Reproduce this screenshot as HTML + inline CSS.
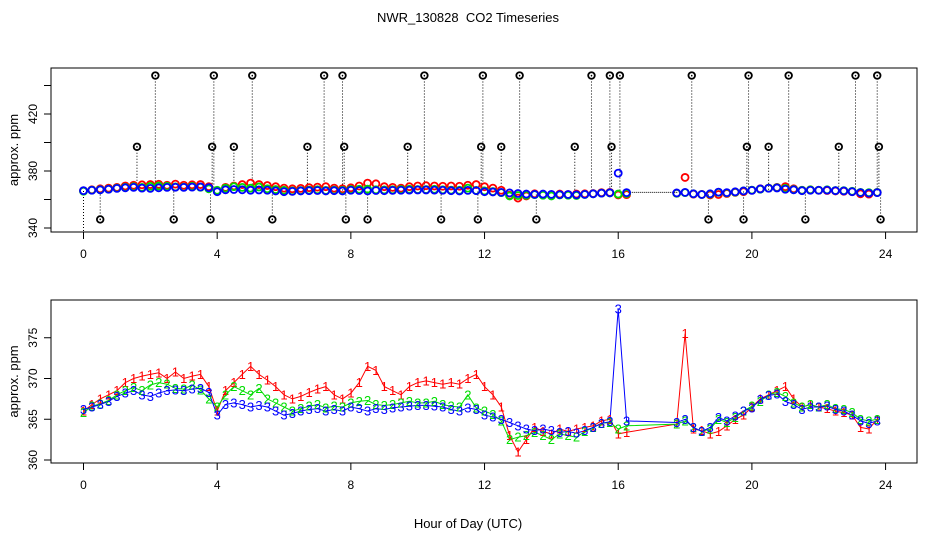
<!DOCTYPE html>
<html><head><meta charset="utf-8"><style>
body{margin:0;background:#fff;}
svg{display:block;font-family:"Liberation Sans",sans-serif;}
</style></head><body>
<svg id="chart" width="936" height="540" viewBox="0 0 936 540" xmlns="http://www.w3.org/2000/svg">
<rect width="936" height="540" fill="#fff"/>
<text x="468" y="22" font-size="13" text-anchor="middle" xml:space="preserve">NWR_130828  CO2 Timeseries</text>
<text x="468" y="528" font-size="13" text-anchor="middle">Hour of Day (UTC)</text>
<g id="topPanel"></g>
<g id="botPanel"></g>
</svg>
<script>
const hours = [];
for (let i = 0; i < 96; i++) hours.push(i * 0.25);
const series3 = [366.2,366.5,366.8,367.2,367.8,368.2,368.5,368.0,367.8,368.2,368.5,368.6,368.5,368.7,368.8,368.3,
365.5,366.8,367.0,366.8,366.5,366.7,366.5,366.0,365.5,365.7,366.0,366.2,366.3,366.0,366.2,366.0,
366.5,366.3,366.0,366.3,366.2,366.4,366.5,366.6,366.7,366.7,366.6,366.5,366.2,366.0,366.4,366.2,
365.5,365.3,365.0,364.6,364.2,363.8,363.6,363.8,363.6,363.4,363.5,363.3,363.6,364.0,364.5,364.7,
378.5,364.8,null,null,null,null,null,364.6,365.0,364.0,363.5,364.0,365.2,364.8,365.4,366.0,
366.4,367.4,367.9,368.1,367.2,366.8,366.2,366.5,366.5,366.6,366.2,366.0,365.5,364.8,364.5,364.8];
const series2 = [365.8,366.6,366.9,367.3,368.0,368.5,368.9,368.5,369.2,369.5,369.3,368.8,368.7,369.2,368.6,367.5,
366.5,368.0,369.0,368.5,368.0,368.8,367.5,367.0,366.5,366.0,366.3,366.6,366.8,366.4,366.6,366.5,
367.0,367.2,367.3,366.8,366.7,366.8,367.0,367.2,367.0,367.0,367.2,366.8,366.6,366.5,368.0,366.4,
366.0,365.6,364.8,362.5,362.8,363.0,363.4,363.0,362.5,363.2,363.0,362.8,363.5,364.0,364.5,364.6,
363.8,364.2,null,null,null,null,null,364.4,364.8,364.0,363.5,363.8,365.0,364.6,365.2,366.0,
366.6,367.2,368.0,368.3,367.8,367.0,366.5,366.8,366.5,366.8,366.3,366.2,365.8,365.0,364.8,365.0];
const series1 = [366.0,366.8,367.5,368.0,368.5,369.5,370.0,370.3,370.5,370.7,370.0,370.8,370.0,370.3,370.5,369.0,
366.0,368.5,369.5,370.5,371.5,370.5,369.8,369.0,368.0,367.5,367.8,368.3,368.7,369.0,368.0,367.5,
368.2,369.5,371.5,371.0,369.0,368.5,368.0,369.0,369.5,369.7,369.5,369.3,369.5,369.3,370.0,370.5,
369.0,368.0,366.5,363.0,361.0,362.5,364.0,363.5,363.2,363.8,363.5,363.8,364.0,364.2,364.8,365.0,
363.2,363.4,null,null,null,null,null,364.4,375.5,363.8,363.6,363.2,363.5,364.2,365.0,365.5,
366.5,367.5,368.0,368.5,369.0,367.5,366.5,366.8,366.5,366.3,366.0,365.8,365.5,364.0,363.8,365.0];
const outlierHours = [0.5,1.6,2.15,2.7,3.8,3.85,3.9,4.5,5.05,5.65,6.7,7.2,7.75,7.8,7.85,8.5,9.7,10.2,10.7,11.8,11.9,11.95,12.5,13.05,13.55,14.7,15.2,15.75,15.8,16.05,18.2,18.7,19.75,19.85,19.9,20.5,21.1,21.6,22.6,23.1,23.75,23.8,23.85];
const outlierValues = [346,397,447,346,346,397,447,397,447,346,397,447,447,397,346,346,397,447,346,346,397,447,397,447,346,397,447,447,397,447,447,346,346,397,447,397,447,346,397,447,447,397,346];
const topTickVals = [340,360,380,400,420,440];
const topTickLabels = ["340","","380","","420",""];
const botTickVals = [360,365,370,375];
const botTickLabels = ["360","365","370","375"];
const ticksX = [0,4,8,12,16,20,24];

const NS = "http://www.w3.org/2000/svg";
function mk(tag, attrs, parent, txt) {
  const e = document.createElementNS(NS, tag);
  for (const k in attrs) e.setAttribute(k, attrs[k]);
  if (txt !== undefined) e.textContent = txt;
  parent.appendChild(e);
  return e;
}
const xS = h => 83.5 + h * 33.42;
const yTop = v => 228 - (v - 340) * 1.425;
const yBot = v => 460 - (v - 360) * 8.15;
const colors = ["#ff0000", "#00dd00", "#0000ff"];
const allSeries = [series1, series2, series3];

function frame(g, y0, y1, yScale, tickVals, tickLabels, name) {
  const b = mk("rect", {x:51, y:y0, width:866, height:y1 - y0, fill:"none", stroke:"#000", "stroke-width":1}, g);
  
  
  ticksX.forEach(t => {
    mk("line", {x1:xS(t), x2:xS(t), y1:y1, y2:y1 + 7, stroke:"#000"}, g);
    const lb = mk("text", {x:xS(t), y:y1 + 26, "font-size":12, "text-anchor":"middle"}, g, String(t));
    
    
  });
  tickVals.forEach((t, i) => {
    const y = yScale(t);
    mk("line", {x1:44, x2:51, y1:y, y2:y, stroke:"#000"}, g);
    if (!tickLabels[i]) return;
    const lb = mk("text", {x:37, y:y, "font-size":12, "text-anchor":"middle", transform:`rotate(-90 37 ${y})`}, g, tickLabels[i]);
    
    
  });
  const yt = (y0 + y1) / 2;
  const tt = mk("text", {x:18, y:yt, "font-size":13, "text-anchor":"middle", transform:`rotate(-90 18 ${yt})`}, g, "approx. ppm");
  
  
}

const topG = document.getElementById("topPanel");
const botG = document.getElementById("botPanel");
frame(topG, 68, 232, yTop, topTickVals, topTickLabels, "top");
frame(botG, 300, 463, yBot, botTickVals, botTickLabels, "bottom");

outlierHours.forEach((h, i) => {
  const x = xS(h), y = yTop(outlierValues[i]);
  mk("line", {x1:x, x2:x, y1:y, y2:yTop(366), stroke:"#000", "stroke-dasharray":"1,2"}, topG);
});
mk("line", {x1:xS(16.3), x2:xS(17.8), y1:yTop(365), y2:yTop(365), stroke:"#000", "stroke-dasharray":"1,1"}, topG);
mk("line", {x1:xS(0), x2:xS(0), y1:yTop(366), y2:232, stroke:"#000", "stroke-dasharray":"1,2"}, topG);
allSeries.forEach((s, si) => {
  s.forEach((v, i) => {
    if (v === null) return;
    const c = mk("circle", {cx:xS(hours[i]), cy:yTop(v), r:3.5, fill:"none", stroke:colors[si], "stroke-width":1.8}, topG);
    
    
  });
});
outlierHours.forEach((h, i) => {
  const c = mk("circle", {cx:xS(h), cy:yTop(outlierValues[i]), r:3.3, fill:"none", stroke:"#000", "stroke-width":1.8}, topG);
  
  
  mk("circle", {cx:xS(h), cy:yTop(outlierValues[i]), r:0.8, fill:"#000"}, topG);
});

allSeries.forEach((s, si) => {
  let d = "";
  s.forEach((v, i) => {
    if (v === null) return;
    d += (d ? "L" : "M") + xS(hours[i]).toFixed(1) + "," + yBot(v).toFixed(1);
  });
  const p = mk("path", {d:d, fill:"none", stroke:colors[si], "stroke-width":1}, botG);
  
  
});
allSeries.forEach((s, si) => {
  s.forEach((v, i) => {
    if (v === null) return;
    const t = mk("text", {x:xS(hours[i]), y:yBot(v) + 4.5, "font-size":13, fill:colors[si], "text-anchor":"middle"}, botG, String(si + 1));
    
    
  });
});
</script>
</body></html>
